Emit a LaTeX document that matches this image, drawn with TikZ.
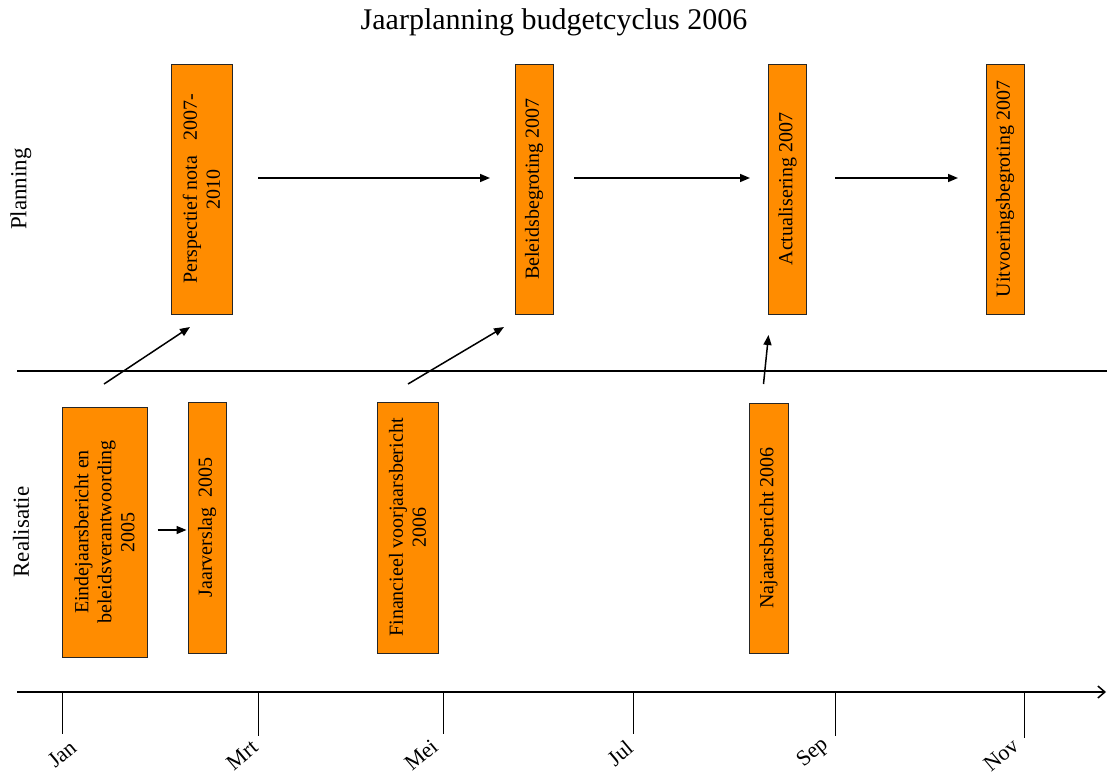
\documentclass[tikz,border=0pt]{standalone}
\usepackage{fontspec}
\setmainfont{Liberation Serif}
\usetikzlibrary{arrows.meta}
\definecolor{barorange}{RGB}{255,140,0}
\tikzset{
  bar/.style={draw=black!85, line width=0.8, fill=barorange, rotate=90,
    inner sep=0, align=center, font=\fontsize{20}{23}\selectfont},
  flow/.style={line width=1.5, -{Triangle[length=10,width=8]}},
  rule/.style={line width=2},
  tick/.style={line width=1},
  month/.style={rotate=40, font=\fontsize{22}{24}\selectfont, inner sep=0},
  lane/.style={rotate=90, font=\fontsize{23}{26}\selectfont, inner sep=0}
}
\begin{document}
\begin{tikzpicture}[x=1pt,y=-1pt]
\useasboundingbox (0,0) rectangle (1107,774);

% title and lane labels
\node[font=\fontsize{30}{34}\selectfont] (title) at (554,22) {Jaarplanning budgetcyclus 2006};
\node[lane] (lplan) at (21,189) {Planning};
\node[lane] (lreal) at (21,532) {Realisatie};

% planning row
\node[bar, minimum width=250, minimum height=61] (pn) at (201.5,189) {Perspectief nota\ \ \ 2007-\\2010};
\node[bar, minimum width=250, minimum height=38] (bb) at (534,189) {Beleidsbegroting 2007};
\node[bar, minimum width=250, minimum height=38] (ac) at (787.5,189) {Actualisering 2007};
\node[bar, minimum width=250, minimum height=38] (ub) at (1005,189) {Uitvoeringsbegroting 2007};

% realisation row
\node[bar, minimum width=250, minimum height=85] (eb) at (104.5,532) {Eindejaarsbericht en\\beleidsverantwoording\\2005};
\node[bar, minimum width=251, minimum height=38] (jv) at (207,527.5) {Jaarverslag\ \ 2005};
\node[bar, minimum width=251, minimum height=61] (fv) at (407.5,527.5) {Financieel voorjaarsbericht\\2006};
\node[bar, minimum width=250, minimum height=39] (nb) at (768.5,528) {Najaarsbericht 2006};

% connector end points
\coordinate (pnR) at (258,178);  \coordinate (bbL) at (490,178);
\coordinate (bbR) at (574,178);  \coordinate (acL) at (750,178);
\coordinate (acR) at (835,178);  \coordinate (ubL) at (958,178);
\coordinate (ebT) at (104,384);  \coordinate (pnB) at (190,327);
\coordinate (fvT) at (408,384);  \coordinate (bbB) at (504,327);
\coordinate (nbT) at (763.5,384); \coordinate (acB) at (768.5,335);
\coordinate (ebR) at (157.5,530); \coordinate (jvL) at (186.5,530);

\draw[flow] (pnR) -- (bbL);
\draw[flow] (bbR) -- (acL);
\draw[flow] (acR) -- (ubL);
\draw[flow] (ebT) -- (pnB);
\draw[flow] (fvT) -- (bbB);
\draw[flow] (nbT) -- (acB);
\draw[flow] (ebR) -- (jvL);

% lane separator and time axis
\coordinate (sepL) at (17,371); \coordinate (sepR) at (1107,371);
\draw[rule] (sepL) -- (sepR);
\coordinate (axL) at (17,692); \coordinate (axR) at (1106,692);
\draw[rule, -{Straight Barb[length=7,width=12,line width=1.5]}] (axL) -- (axR);

% month ticks
\draw[tick] (62,692) -- (62,734);
\draw[tick] (258,692) -- (258,736);
\draw[tick] (443,692) -- (443,734);
\draw[tick] (633,692) -- (633,734);
\draw[tick] (835,692) -- (835,736);
\draw[tick] (1024,692) -- (1024,738);

% month labels
\node[month] (mJan) at (62,754) {Jan};
\node[month] (mMrt) at (242,755) {Mrt};
\node[month] (mMei) at (421,755) {Mei};
\node[month] (mJul) at (620,753) {Jul};
\node[month] (mSep) at (813,753) {Sep};
\node[month] (mNov) at (1001,755) {Nov};
\end{tikzpicture}
\end{document}
